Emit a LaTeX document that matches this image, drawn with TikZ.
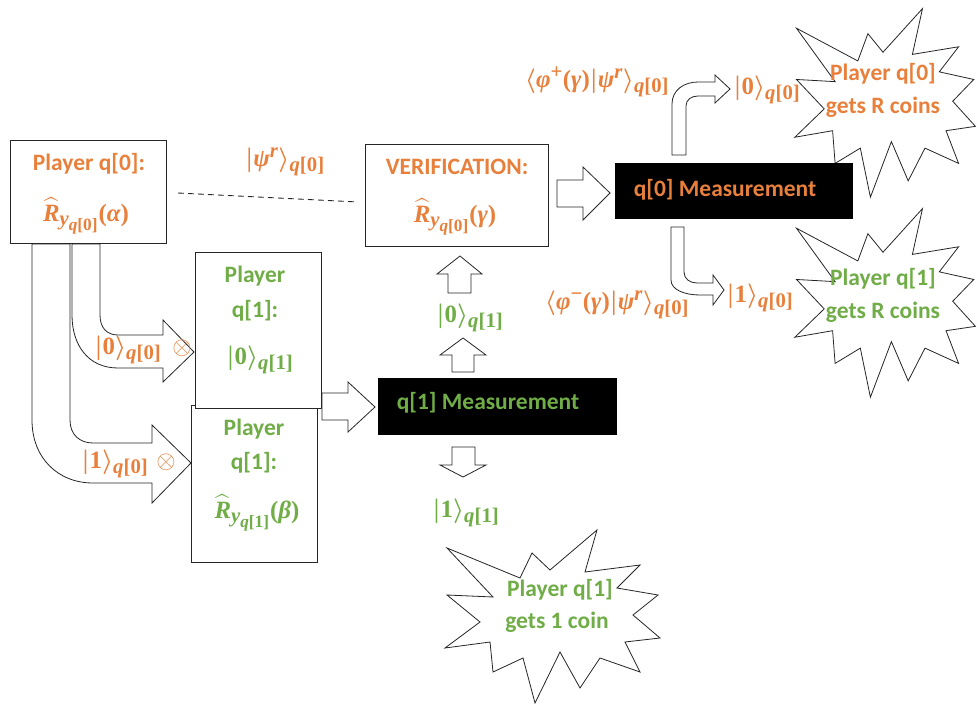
\documentclass[tikz,border=0pt]{standalone}
\usepackage{amsmath}
\usepackage[no-math]{fontspec}
\setmainfont{Carlito}
\newfontfamily\mfnt{Liberation Serif}
\newcommand\mbi[1]{\text{\mfnt\bfseries\itshape #1}}
\newcommand\mbu[1]{\text{\mfnt\bfseries\upshape #1}}
\definecolor{orng}{RGB}{232,128,60}
\definecolor{grn}{RGB}{112,173,71}
\tikzset{
  box/.style={draw=black!85, line width=0.9pt, fill=white, inner sep=0pt},
  blk/.style={fill=black, draw=none, inner sep=0pt},
  barrow/.style={draw=black!85, line width=0.8pt, fill=white, line join=miter},
  starline/.style={draw=black!85, line width=0.8pt, fill=white, line join=miter},
  ttxt/.style={font=\fontsize{23.5}{28}\selectfont\bfseries, inner sep=0pt},
  mtxt/.style={font=\fontsize{24.88}{30}\selectfont\boldmath, inner sep=0pt},
  otxt/.style={font=\fontsize{24.88}{30}\selectfont, inner sep=0pt},
  starpic/.pic={
    \path[starline] (-103,-64) -- (-30,-34) -- (-18,-59) -- (0,-42) -- (47,-82) -- (35,-40)
      -- (90,-47) -- (67,-24) -- (108,-17) -- (83,3) -- (110,26) -- (75,30) -- (90,60)
      -- (50,46) -- (30,76) -- (10,40) -- (-15,91) -- (-27,46) -- (-57,60) -- (-60,30)
      -- (-105,36) -- (-70,10) -- (-103,-17) -- (-57,-15) -- cycle;
  }
}
\begin{document}
\begin{tikzpicture}[x=1pt,y=-1pt]
\useasboundingbox[fill=white] (0,0) rectangle (980,707);

% stars
\pic[xscale=0.84,yscale=1.09] (s1) at (883,98) {starpic};
\pic[xscale=0.84,yscale=1.09] (s2) at (883,298) {starpic};
\pic (s3) at (550,612) {starpic};

% left U-shaped arrows
\path[barrow] (32,244) -- (32,420) .. controls (32,458) and (58,483) .. (93,483)
  -- (152,483) -- (152,503) -- (191,463) -- (152,425) -- (152,443) -- (93,443)
  .. controls (80,443) and (70,435) .. (70,420) -- (70,244) -- cycle;
\path[barrow] (72,244) -- (72,315) .. controls (72,345) and (88,368) .. (118,368)
  -- (163,368) -- (163,382) -- (194,352) -- (163,320) -- (163,335) -- (118,335)
  .. controls (107,335) and (100,328) .. (100,315) -- (100,244) -- cycle;

% boxes
\node[box, minimum width=156pt, minimum height=103pt] (p0) at (88,191.5) {};
\node[box, minimum width=183pt, minimum height=102pt] (ver) at (456.5,195) {};
\node[box, minimum width=126pt, minimum height=157pt] (p1b) at (254,483.5) {};
\node[box, minimum width=126pt, minimum height=156pt] (p1a) at (258,330) {};
\node[blk, minimum width=238pt, minimum height=56pt] (m0) at (734,191) {};
\node[blk, minimum width=239pt, minimum height=57pt] (m1) at (497.5,406.5) {};

% dashed link
\coordinate (d1) at (178,193);
\coordinate (d2) at (358,202);
\draw[black!85, line width=0.9pt, dash pattern=on 6pt off 4pt] (d1) -- (d2);

% straight block arrows
\path[barrow] (557,180) -- (583,180) -- (583,167) -- (610,193) -- (583,220) -- (583,207) -- (557,207) -- cycle;
\path[barrow] (322,393) -- (348,393) -- (348,382) -- (375,407) -- (348,432) -- (348,420) -- (322,420) -- cycle;
\path[barrow] (448,293) -- (448,274) -- (437,274) -- (460,256) -- (482,274) -- (471,274) -- (471,293) -- cycle;
\path[barrow] (452,372) -- (452,355) -- (440,355) -- (463,338) -- (486,355) -- (474,355) -- (474,372) -- cycle;
\path[barrow] (452,447) -- (475,447) -- (475,465) -- (486,465) -- (463,477) -- (440,465) -- (452,465) -- cycle;

% bent arrows at q[0] measurement
\path[barrow] (672,155) -- (672,104) .. controls (672,90) and (684,82) .. (698,82)
  -- (715,82) -- (715,75) -- (730,89) -- (715,103) -- (715,96) -- (698,96)
  .. controls (691,96) and (686,100) .. (686,106) -- (686,155) -- cycle;
\path[barrow] (671,227) -- (671,280) .. controls (671,290) and (685,295) .. (700,295)
  -- (713,295) -- (713,305) -- (724,290) -- (713,275) -- (713,283) -- (697,283)
  .. controls (690,283) and (684,279) .. (684,272) -- (684,227) -- cycle;

% texts
\node[ttxt, orng] (t0a) at (89,164) {Player q[0]:};
\node[mtxt, orng] (t0b) at (86,216) {$\widehat{\mbi{R}}_{\mbi{y}_{\mbi{q}\mbu{[0]}}}\mbu{(}\mbi{α}\mbu{)}$};
\node[mtxt, orng] (tpsi) at (285,162) {$|\mbi{ψ}^{\mbi{r}}\rangle_{\mbi{q}\mbu{[0]}}$};
\node[ttxt, orng] (tva) at (457,167) {VERIFICATION:};
\node[mtxt, orng] (tvb) at (455,217) {$\widehat{\mbi{R}}_{\mbi{y}_{\mbi{q}\mbu{[0]}}}\mbu{(}\mbi{γ}\mbu{)}$};
\node[ttxt, orng] (tm0) at (725,190) {q[0] Measurement};
\node[ttxt, grn] (tm1) at (488,403) {q[1] Measurement};

\node[ttxt, grn] (ta1) at (255,276) {Player};
\node[ttxt, grn] (ta2) at (255,311) {q[1]:};
\node[mtxt, grn] (ta3) at (260,360) {$|\mbu{0}\rangle_{\mbi{q}\mbu{[1]}}$};
\node[ttxt, grn] (tb1) at (254,429) {Player};
\node[ttxt, grn] (tb2) at (254,463) {q[1]:};
\node[mtxt, grn] (tb3) at (257,513) {$\widehat{\mbi{R}}_{\mbi{y}_{\mbi{q}\mbu{[1]}}}\mbu{(}\mbi{β}\mbu{)}$};

\node[mtxt, orng] (l00) at (128,350) {$|\mbu{0}\rangle_{\mbi{q}\mbu{[0]}}$};
\node[otxt, orng] (x0) at (182,348) {$\otimes$};
\node[mtxt, orng] (l10) at (115,464) {$|\mbu{1}\rangle_{\mbi{q}\mbu{[0]}}$};
\node[otxt, orng] (x1) at (166,462) {$\otimes$};

\node[mtxt, grn] (l01) at (470,318) {$|\mbu{0}\rangle_{\mbi{q}\mbu{[1]}}$};
\node[mtxt, grn] (l11) at (466,513) {$|\mbu{1}\rangle_{\mbi{q}\mbu{[1]}}$};

\node[mtxt, orng] (lpp) at (597,82) {$\langle\mbi{φ}^{\mbu{+}}\mbu{(}\mbi{γ}\mbu{)}|\mbi{ψ}^{\mbi{r}}\rangle_{\mbi{q}\mbu{[0]}}$};
\node[mtxt, orng] (l0top) at (767,90) {$|\mbu{0}\rangle_{\mbi{q}\mbu{[0]}}$};
\node[mtxt, orng] (lpm) at (617,305) {$\langle\mbi{φ}^{\mbu{−}}\mbu{(}\mbi{γ}\mbu{)}|\mbi{ψ}^{\mbi{r}}\rangle_{\mbi{q}\mbu{[0]}}$};
\node[mtxt, orng] (l1bot) at (760,298) {$|\mbu{1}\rangle_{\mbi{q}\mbu{[0]}}$};

\node[ttxt, orng] (s1a) at (883,74) {Player q[0]};
\node[ttxt, orng] (s1b) at (883,107) {gets R coins};
\node[ttxt, grn] (s2a) at (883,279) {Player q[1]};
\node[ttxt, grn] (s2b) at (883,312) {gets R coins};
\node[ttxt, grn] (s3a) at (560,590) {Player q[1]};
\node[ttxt, grn] (s3b) at (557,622) {gets 1 coin};
\end{tikzpicture}
\end{document}
